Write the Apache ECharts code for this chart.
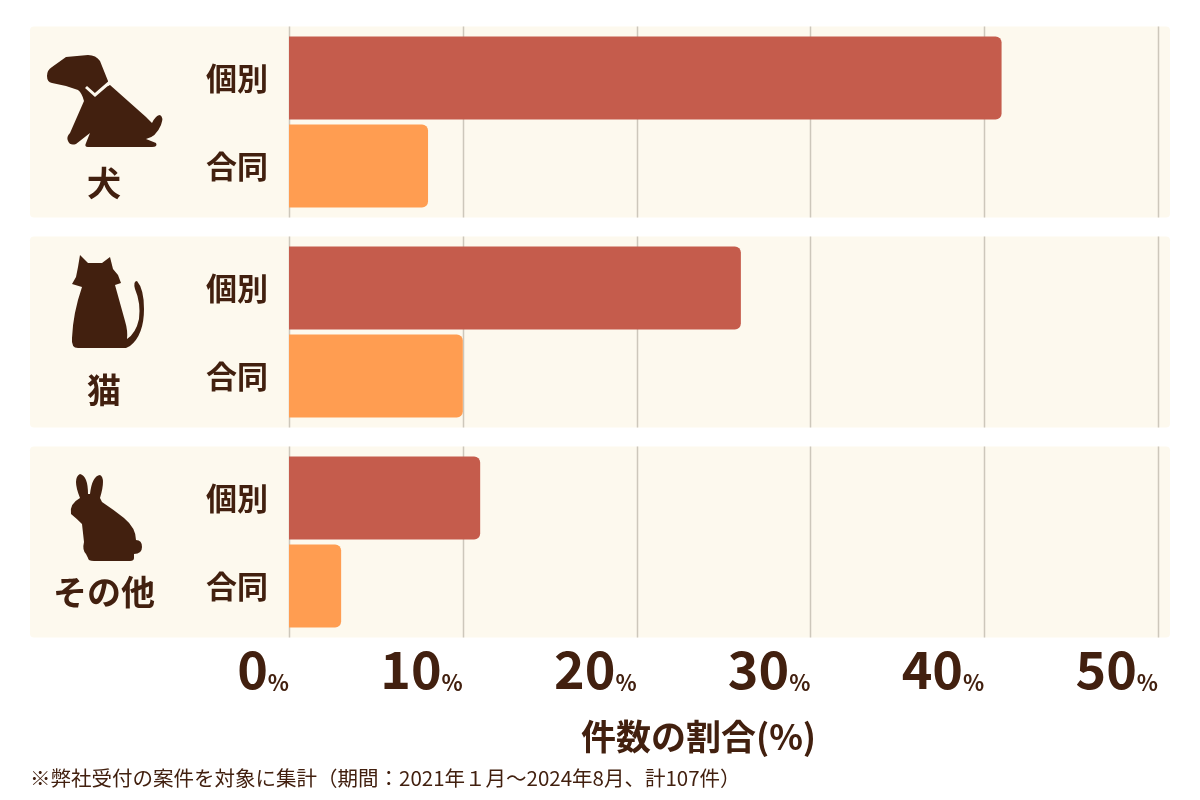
<!DOCTYPE html>
<html>
<head>
<meta charset="utf-8">
<script src="https://cdn.jsdelivr.net/npm/echarts@6/dist/echarts.min.js"></script>
<style>
  html, body { margin: 0; padding: 0; background: #fff; }
  #chart { width: 1200px; height: 800px; }
</style>
</head>
<body>
<div id="chart"></div>
<script>
// data
var groups = ['犬', '猫', 'その他'];
var kobetsu = [41, 26, 11];   // 個別
var goudou = [8, 10, 3];      // 合同
var xTicks = [0, 10, 20, 30, 40, 50];
var note = '※弊社受付の案件を対象に集計（期間：2021年１月～2024年8月、計107件）';

var brown = '#42200f';

// silhouettes (local coords), placed per group
var icons = [
  { // dog
    path: 'M1 21 Q1 15 6 12 L20 2 L42 0 Q50 0 54 6 L62 26 Q63 33 58 33 L64 30 L100 62 Q104 66 106 68 Q110 60 114 60 Q118 62 115 70 Q110 82 100 84 L110 88 Q112 92 106 92 L42 92 Q38 92 40 88 L44 78 L30 89 Q24 91 22 86 Q20 82 24 78 L38 46 Q36 38 32 35 L20 31 L6 28 Q1 27 1 21 Z',
    x: 46, dy: -67, labelDy: 61,
    collar: [[40, 32], [49, 40], [64, 27]]
  },
  { // cat
    path: 'M12 2 L20 10 L34 10 L42 4 L45 16 L50 22 L53 30 L47 32 Q52 50 57 68 Q60 78 59 86 Q68 80 71 66 Q73 50 67 36 Q65 28 69 28 Q76 36 76 56 Q76 82 62 93 L58 95 L10 95 Q3 95 4 85 Q5 60 14 34 L4 31 L8 24 L10 14 Z',
    x: 68, dy: -79, labelDy: 58
  },
  { // rabbit
    path: 'M12 24 Q4 4 12 0 Q20 2 20 20 L22 20 Q24 2 32 1 Q38 4 32 24 L34 28 Q46 36 56 44 Q68 54 68 66 Q74 66 74 73 Q74 80 66 80 L66 84 Q66 87 62 87 L26 87 Q20 87 20 84 L18 80 Q14 76 16 68 L14 50 Q8 44 3 40 Q1 30 12 24 Z',
    x: 68, dy: -68, labelDy: 50
  }
];

function renderPanel(params, api) {
  var idx = api.value(1);
  var cy = api.coord([0, idx])[1];
  var half = 95.5;
  var children = [{
    type: 'rect',
    shape: { x: 30, y: cy - half, width: 1140, height: half * 2, r: 4 },
    style: { fill: '#fdf9ee' }
  }];
  xTicks.forEach(function (t) {
    var x = Math.round(api.coord([t, idx])[0]) + 0.5;
    children.push({
      type: 'line',
      shape: { x1: x, y1: cy - half, x2: x, y2: cy + half },
      style: { stroke: '#cdc7bb', lineWidth: 1.5 }
    });
  });
  var ic = icons[idx];
  children.push({
    type: 'path',
    x: ic.x, y: cy + ic.dy,
    shape: { pathData: ic.path },
    style: { fill: brown }
  });
  if (ic.collar) {
    children.push({
      type: 'polyline',
      x: ic.x, y: cy + ic.dy,
      shape: { points: ic.collar },
      style: { stroke: '#fdf9ee', lineWidth: 3, fill: null }
    });
  }
  children.push({
    type: 'text',
    x: 104, y: cy + ic.labelDy,
    style: {
      text: groups[idx],
      fill: brown,
      font: 'bold 34px "Noto Sans CJK JP"',
      align: 'center',
      verticalAlign: 'middle'
    }
  });
  return { type: 'group', children: children };
}

var chart = echarts.init(document.getElementById('chart'));

chart.setOption({
  animation: false,
  backgroundColor: '#ffffff',
  textStyle: { fontFamily: '"Noto Sans CJK JP", sans-serif' },
  grid: { left: 289, right: 42, top: 17, bottom: 153 },
  xAxis: {
    type: 'value',
    min: 0,
    max: 50,
    interval: 10,
    splitLine: { show: false },
    axisLine: { show: false },
    axisTick: { show: false },
    axisLabel: {
      align: 'right',
      margin: -3,
      formatter: function (v) { return '{n|' + v + '}{p|%}'; },
      rich: {
        n: {
          fontSize: 52, fontWeight: 'bold', color: brown, lineHeight: 50,
          fontFamily: '"Noto Sans CJK JP"'
        },
        p: {
          fontSize: 22, fontWeight: 'bold', color: brown, lineHeight: 50,
          verticalAlign: 'bottom',
          fontFamily: '"Noto Sans CJK JP"'
        }
      }
    },
    name: '件数の割合(%)',
    nameLocation: 'middle',
    nameGap: 72,
    nameTextStyle: {
      fontSize: 35, fontWeight: 'bold', color: brown,
      padding: [0, 50, 0, 0]
    }
  },
  yAxis: {
    type: 'category',
    data: groups,
    inverse: true,
    axisLine: { show: false },
    axisTick: { show: false },
    axisLabel: { show: false },
    splitLine: { show: false }
  },
  series: [
    {
      type: 'custom',
      z: 1,
      clip: false,
      silent: true,
      renderItem: renderPanel,
      encode: { x: 0, y: 1 },
      data: groups.map(function (g, i) { return [0, i]; })
    },
    {
      name: '個別',
      type: 'bar',
      z: 3,
      data: kobetsu,
      barWidth: 83,
      barGap: '6%',
      itemStyle: { color: '#c55c4c', borderRadius: [0, 6, 6, 0] },
      label: {
        show: true, position: 'left', distance: 21,
        formatter: '{a}', fontSize: 31, fontWeight: 'bold', color: brown
      }
    },
    {
      name: '合同',
      type: 'bar',
      z: 3,
      data: goudou,
      barWidth: 83,
      barGap: '6%',
      itemStyle: { color: '#ff9d51', borderRadius: [0, 6, 6, 0] },
      label: {
        show: true, position: 'left', distance: 21,
        formatter: '{a}', fontSize: 31, fontWeight: 'bold', color: brown
      }
    }
  ],
  graphic: [{
    type: 'text',
    left: 30,
    top: 768,
    style: {
      text: note,
      fill: brown,
      font: '20.5px "Noto Sans CJK JP"'
    }
  }]
});
</script>
</body>
</html>
